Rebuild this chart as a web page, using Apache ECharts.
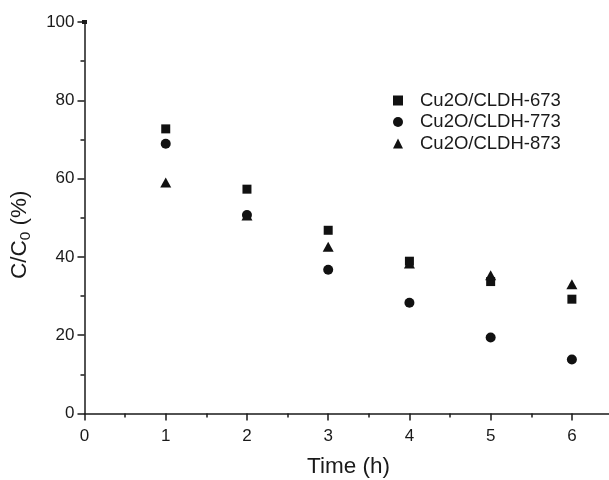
<!DOCTYPE html>
<html>
<head>
<meta charset="utf-8">
<script src="https://cdn.jsdelivr.net/npm/echarts@6/dist/echarts.min.js"></script>
<style>html,body{margin:0;padding:0;background:#fff}#c{width:609px;height:480px}</style>
</head>
<body>
<div id="c"></div>
<script>
var times = [1, 2, 3, 4, 5, 6];
var s673 = [72.7, 57.3, 46.8, 38.9, 33.7, 29.2];
var s773 = [68.9, 50.7, 36.7, 28.3, 19.4, 13.8];
var s873 = [59.0, 50.6, 42.6, 38.3, 35.3, 33.0];
var names = ['Cu2O/CLDH-673', 'Cu2O/CLDH-773', 'Cu2O/CLDH-873'];
var xTicks = [0, 1, 2, 3, 4, 5, 6];
var yTicks = [0, 20, 40, 60, 80, 100];

function pairs(ys) { return times.map(function (t, i) { return [t, ys[i]]; }); }

var font = 'Arial, "Liberation Sans", Helvetica, sans-serif';
var ink = '#1a1a1a';

var chart = echarts.init(document.getElementById('c'), null, {renderer: 'canvas'});
chart.setOption({
  animation: false,
  backgroundColor: '#fff',
  grid: {left: 84.5, top: 22, width: 528, height: 391.5, containLabel: false, outerBoundsMode: 'none'},
  legend: {
    orient: 'vertical', left: 388, top: 86, itemWidth: 10, itemHeight: 10, itemGap: 2.5,
    textStyle: {fontFamily: font, fontSize: 18.5, color: ink, padding: [0, 0, 0, 12]},
    data: [{name: names[0], icon: 'rect'}, {name: names[1], icon: 'circle'}, {name: names[2], icon: 'triangle'}]
  },
  xAxis: [{
    type: 'value', min: 0, max: 6.5, interval: 1, position: 'bottom',
    name: 'Time (h)', nameLocation: 'middle', nameGap: 42,
    nameTextStyle: {fontFamily: font, fontSize: 22.5, color: ink},
    axisLine: {show: true, onZero: false, lineStyle: {color: ink, width: 1.5}},
    axisTick: {show: true, inside: false, length: 7, lineStyle: {color: ink, width: 1.5}},
    axisLabel: {margin: 14, fontFamily: font, fontSize: 17, color: ink, showMaxLabel: false,
      formatter: function (v) { return xTicks.indexOf(v) >= 0 ? String(v) : ''; }},
    splitLine: {show: false}
  }, {
    type: 'value', min: 0, max: 6.5, interval: 0.5, position: 'bottom', offset: 0,
    axisLine: {show: false, onZero: false},
    axisTick: {show: true, inside: false, length: 4, lineStyle: {color: ink, width: 1.5}},
    axisLabel: {show: false},
    splitLine: {show: false}
  }],
  yAxis: {
    type: 'value', min: 0, max: 100, interval: 20,
    name: '{a|C/C}{b|0}{a| (%)}', nameLocation: 'middle', nameGap: 51,
    nameTextStyle: {
      padding: [0, 34, 0, 0],
      rich: {
        a: {fontFamily: font, fontSize: 22.5, color: ink, lineHeight: 28, verticalAlign: 'middle'},
        b: {fontFamily: font, fontSize: 15.5, color: ink, lineHeight: 16, verticalAlign: 'bottom'}
      }
    },
    axisLine: {show: true, lineStyle: {color: ink, width: 1.5}, symbol: ['none', 'rect'], symbolSize: [5, 4], symbolOffset: [0, 0]},
    axisTick: {show: true, inside: false, length: 7, lineStyle: {color: ink, width: 1.5}},
    minorTick: {show: true, splitNumber: 2, length: 4, lineStyle: {color: ink, width: 1.5}},
    axisLabel: {margin: 10, fontFamily: font, fontSize: 17, color: ink,
      formatter: function (v) { return yTicks.indexOf(v) >= 0 ? String(v) : ''; }},
    splitLine: {show: false}
  },
  series: [
    {name: names[0], type: 'scatter', symbol: 'rect', symbolSize: 9, itemStyle: {color: '#111', opacity: 1}, data: pairs(s673)},
    {name: names[1], type: 'scatter', symbol: 'circle', symbolSize: 10, itemStyle: {color: '#111', opacity: 1}, data: pairs(s773)},
    {name: names[2], type: 'scatter', symbol: 'triangle', symbolSize: [11, 10], itemStyle: {color: '#111', opacity: 1}, data: pairs(s873)}
  ]
});
</script>
</body>
</html>
